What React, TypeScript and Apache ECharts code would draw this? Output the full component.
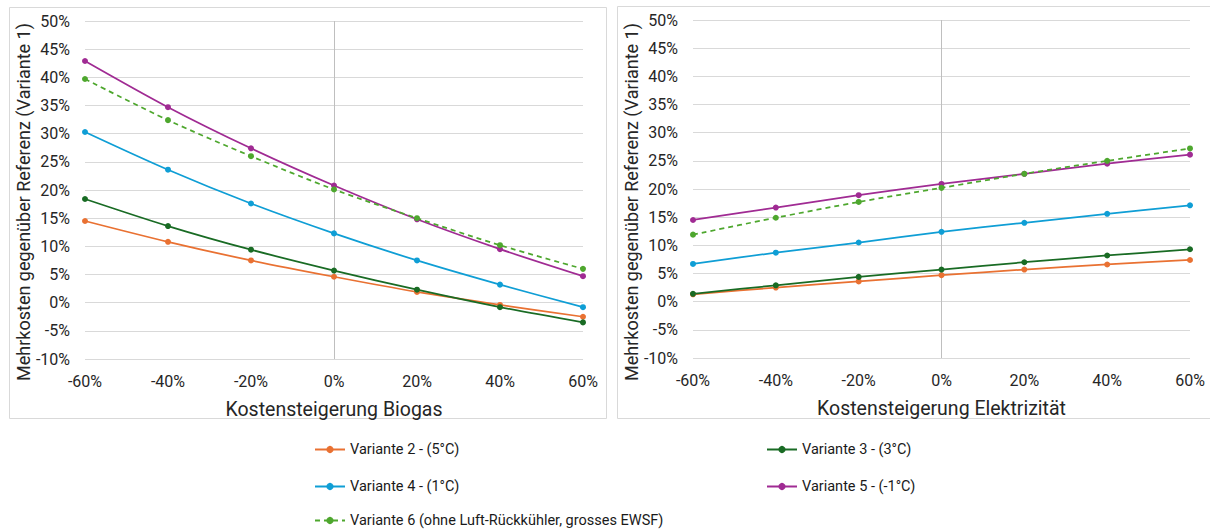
import React, { useEffect, useRef } from "react";
import * as echarts from "echarts";

const xValues = [-60, -40, -20, 0, 20, 40, 60];
const seriesNames = [
  "Variante 2 - (5°C)",
  "Variante 3 - (3°C)",
  "Variante 4 - (1°C)",
  "Variante 5 - (-1°C)",
  "Variante 6 (ohne Luft-Rückkühler, grosses EWSF)",
];
const seriesColors = ["#E97132", "#196B24", "#0F9ED5", "#A02B93", "#4EA72E"];
const seriesDashed = [false, false, false, false, true];

// Kostensteigerung Biogas (left chart), values in %
const biogasV2 = [14.5, 10.8, 7.5, 4.6, 1.9, -0.4, -2.5];
const biogasV3 = [18.4, 13.6, 9.4, 5.7, 2.3, -0.8, -3.5];
const biogasV4 = [30.3, 23.6, 17.6, 12.3, 7.5, 3.2, -0.8];
const biogasV5 = [42.9, 34.7, 27.4, 20.8, 14.8, 9.5, 4.7];
const biogasV6 = [39.7, 32.4, 26.0, 20.1, 15.0, 10.2, 6.0];

// Kostensteigerung Elektrizität (right chart), values in %
const elecV2 = [1.3, 2.5, 3.6, 4.7, 5.7, 6.6, 7.4];
const elecV3 = [1.4, 2.9, 4.4, 5.7, 7.0, 8.2, 9.3];
const elecV4 = [6.7, 8.7, 10.5, 12.4, 14.0, 15.6, 17.1];
const elecV5 = [14.5, 16.7, 18.9, 20.9, 22.7, 24.5, 26.1];
const elecV6 = [11.9, 14.9, 17.7, 20.2, 22.7, 25.0, 27.2];

const biogasData = [biogasV2, biogasV3, biogasV4, biogasV5, biogasV6];
const elecData = [elecV2, elecV3, elecV4, elecV5, elecV6];

const FONT = "Roboto";
const yTitle = "Mehrkosten gegenüber Referenz (Variante 1)";
const xTitleLeft = "Kostensteigerung Biogas";
const xTitleRight = "Kostensteigerung Elektrizität";

export default function App() {
  const ref = useRef<HTMLDivElement>(null);
  useEffect(() => {
    if (!ref.current) return;
    const chart = echarts.init(ref.current, null, { renderer: "svg" });

    const mkX = (gridIndex: number, name: string) => ({
      type: "value",
      gridIndex,
      min: -60,
      max: 60,
      interval: 20,
      name,
      nameLocation: "middle",
      nameGap: 40,
      nameTextStyle: { fontFamily: FONT, fontSize: 19.5, color: "#262626" },
      axisLine: { show: false },
      axisTick: { show: false },
      splitLine: { show: false },
      axisLabel: {
        formatter: "{value}%",
        fontFamily: FONT,
        fontSize: 16,
        color: "#262626",
        margin: 14,
      },
    });
    const mkY = (gridIndex: number) => ({
      type: "value",
      gridIndex,
      min: -10,
      max: 50,
      interval: 5,
      axisLine: { show: false },
      axisTick: { show: false },
      splitLine: { show: true, lineStyle: { color: "#d9d9d9", width: 1 } },
      axisLabel: {
        formatter: "{value}%",
        fontFamily: FONT,
        fontSize: 16,
        color: "#262626",
        margin: 15,
      },
    });

    const series: any[] = [];
    [biogasData, elecData].forEach((set, gi) => {
      set.forEach((vals, i) => {
        const s: any = {
          type: "line",
          name: seriesNames[i],
          xAxisIndex: gi,
          yAxisIndex: gi,
          data: xValues.map((x, k) => [x, vals[k]]),
          smooth: 0.3,
          symbol: "circle",
          symbolSize: 6,
          lineStyle: {
            color: seriesColors[i],
            width: 1.75,
            type: seriesDashed[i] ? [5, 4] : "solid",
          },
          itemStyle: { color: seriesColors[i] },
          z: 3,
        };
        if (i === 0) {
          s.markLine = {
            silent: true,
            symbol: ["none", "none"],
            label: { show: false },
            lineStyle: { color: "#bfbfbf", width: 1, type: "solid" },
            data: [{ xAxis: 0 }],
            z: 1,
          };
        }
        series.push(s);
      });
    });

    const legendPos = [
      { left: 314, top: 442 },
      { left: 766, top: 442 },
      { left: 314, top: 479 },
      { left: 766, top: 479 },
      { left: 314, top: 513 },
    ];
    const legends = seriesNames.map((n, i) => ({
      data: [n],
      left: legendPos[i].left,
      top: legendPos[i].top,
      padding: 0,
      itemWidth: 30,
      itemHeight: 9,
      itemGap: 4,
      selectedMode: false,
      textStyle: { fontFamily: FONT, fontSize: 14.5, color: "#1a1a1a" },
    }));

    const yTitleGraphic = (cx: number) => ({
      type: "text",
      x: cx,
      y: 202,
      rotation: Math.PI / 2,
      silent: true,
      style: {
        text: yTitle,
        fontFamily: FONT,
        fontSize: 18,
        fill: "#262626",
        align: "center",
        verticalAlign: "middle",
      },
    });

    chart.setOption({
      animation: false,
      backgroundColor: "#ffffff",
      grid: [
        { left: 85, right: 627, top: 21, bottom: 171 },
        { left: 693, right: 20, top: 20, bottom: 172 },
      ],
      xAxis: [mkX(0, xTitleLeft), mkX(1, xTitleRight)],
      yAxis: [mkY(0), mkY(1)],
      legend: legends,
      series,
      graphic: [
        {
          type: "rect",
          shape: { x: 9.5, y: 7.5, width: 597, height: 411 },
          style: { fill: "none", stroke: "#d9d9d9", lineWidth: 1 },
          silent: true,
        },
        {
          type: "rect",
          shape: { x: 617.5, y: 6.5, width: 600, height: 412 },
          style: { fill: "none", stroke: "#d9d9d9", lineWidth: 1 },
          silent: true,
        },
        yTitleGraphic(23),
        yTitleGraphic(631),
      ],
    });
    return () => chart.dispose();
  }, []);
  return (
    <div
      ref={ref}
      style={{ position: "fixed", left: 0, top: 0, width: 1210, height: 530 }}
    />
  );
}
